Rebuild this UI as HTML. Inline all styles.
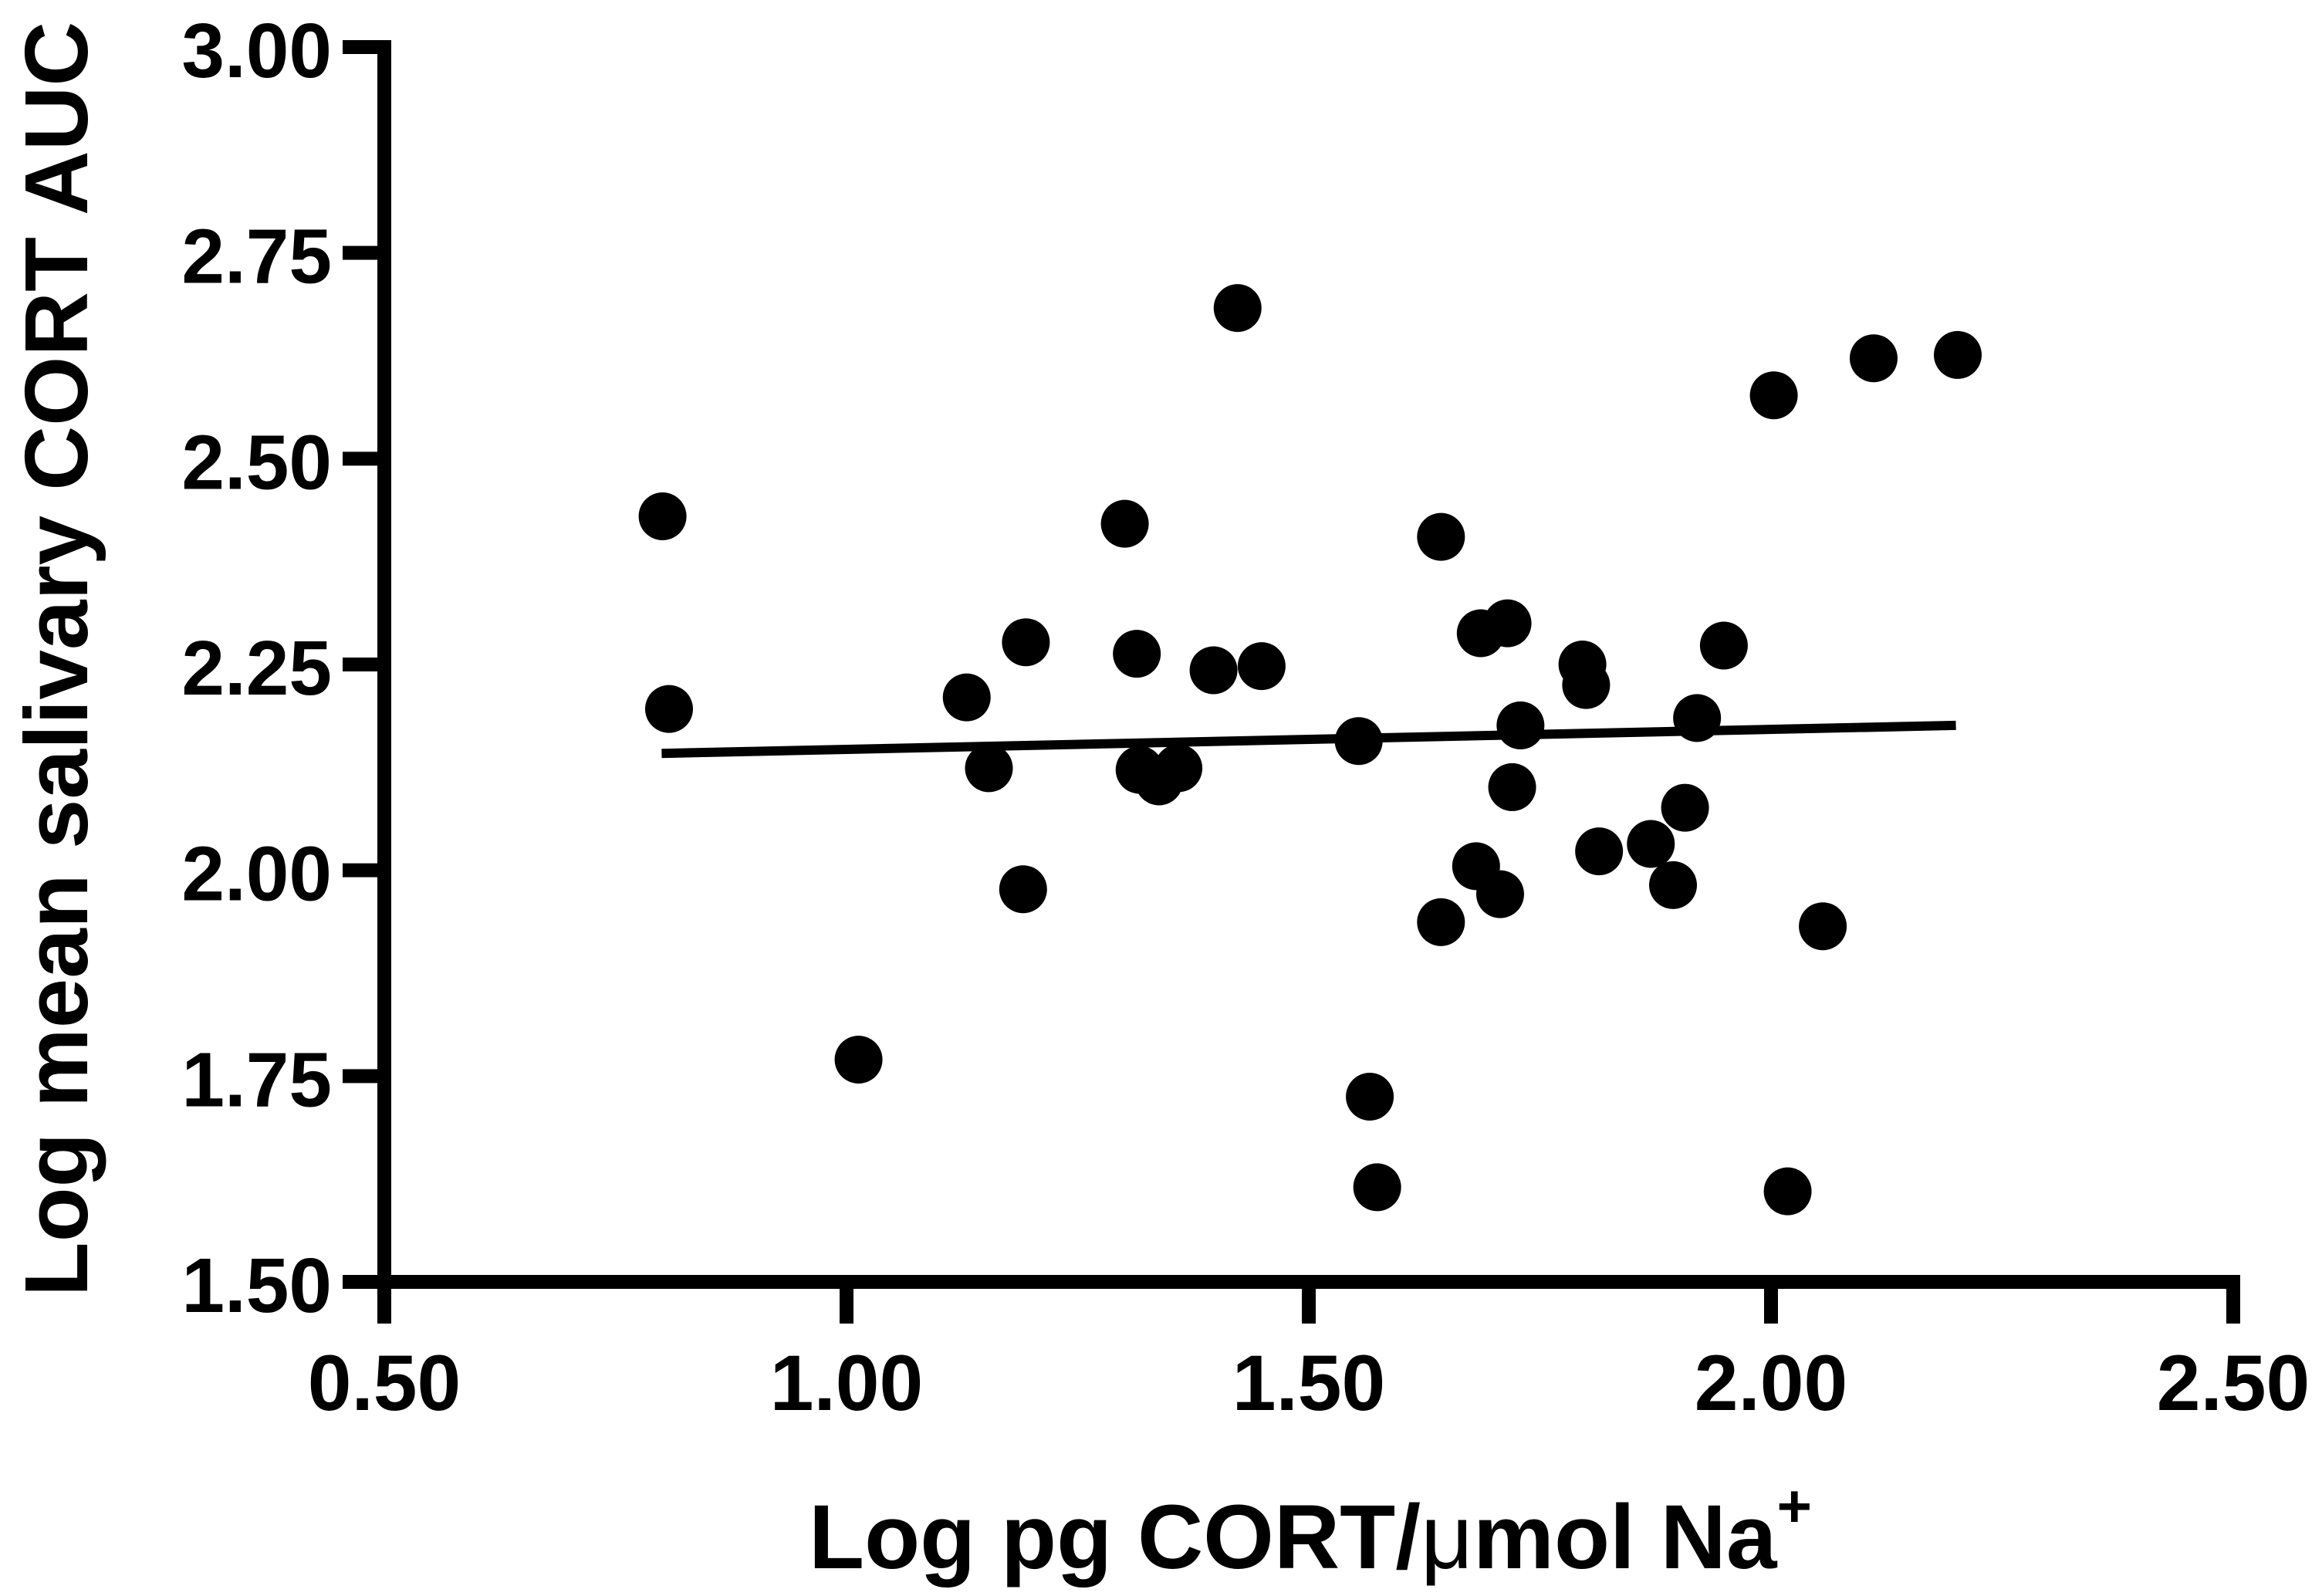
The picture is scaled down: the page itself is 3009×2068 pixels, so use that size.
<!DOCTYPE html>
<html><head><meta charset="utf-8"><style>
html,body{margin:0;padding:0;background:#fff;}
svg{display:block;}
text{font-family:"Liberation Sans",sans-serif;font-weight:bold;fill:#000;}
</style></head>
<body>
<svg id="chart" width="3009" height="2068" viewBox="0 0 3009 2068" xmlns="http://www.w3.org/2000/svg">
<g id="axes"></g>
<g id="marks"></g>
<text x="1698" y="2032" text-anchor="middle" font-size="118">Log pg CORT/<tspan font-weight="normal">μ</tspan>mol Na<tspan font-size="78" dy="-54">+</tspan></text>
<text transform="translate(113,854) rotate(-90)" text-anchor="middle" font-size="116">Log mean salivary CORT AUC</text>
</svg>
<script>
const xVals=[0.801,0.808,1.013,1.130,1.154,1.194,1.191,1.301,1.314,1.317,1.338,1.359,1.397,1.423,1.449,1.554,1.566,1.574,1.643,1.643,1.681,1.686,1.707,1.715,1.720,1.729,1.796,1.800,1.814,1.870,1.894,1.907,1.920,1.949,2.003,2.018,2.056,2.111,2.202];
const yVals=[2.43,2.196,1.77,2.21,2.124,2.277,1.977,2.421,2.263,2.122,2.108,2.124,2.243,2.683,2.248,2.157,1.725,1.615,2.405,1.937,2.005,2.288,1.971,2.30,2.101,2.176,2.25,2.225,2.023,2.032,1.982,2.076,2.185,2.273,2.577,1.610,1.932,2.622,2.626];
const fitX=[0.80,2.20];
const fitY=[2.142,2.176];
const xTicks=[0.5,1.0,1.5,2.0,2.5];
const xTickLabels=["0.50","1.00","1.50","2.00","2.50"];
const yTicks=[1.5,1.75,2.0,2.25,2.5,2.75,3.0];
const yTickLabels=["1.50","1.75","2.00","2.25","2.50","2.75","3.00"];

const X0=498,X1=2894,Y0=1661,Y1=61;
const sx=v=>X0+(v-0.5)/2.0*(X1-X0);
const sy=v=>Y0-(v-1.5)/1.5*(Y0-Y1);
const NS="http://www.w3.org/2000/svg";
function mk(tag,attrs,parent){const e=document.createElementNS(NS,tag);for(const k in attrs)e.setAttribute(k,attrs[k]);parent.appendChild(e);return e;}
const axes=document.getElementById('axes');
const marks=document.getElementById('marks');

let l=mk('line',{x1:X0,y1:Y1-9,x2:X0,y2:Y0+9,stroke:'#000','stroke-width':18},axes);


l=mk('line',{x1:X0-9,y1:Y0,x2:X1+9,y2:Y0,stroke:'#000','stroke-width':18},axes);



yTicks.forEach((v,i)=>{
  const t=mk('line',{x1:X0-54,y1:sy(v),x2:X0,y2:sy(v),stroke:'#000','stroke-width':18},axes);
  
  
  const tx=mk('text',{x:430,y:sy(v)+39,'text-anchor':'end','font-size':100},axes);
  tx.textContent=yTickLabels[i];
  
  
});
xTicks.forEach((v,i)=>{
  const t=mk('line',{x1:sx(v),y1:Y0,x2:sx(v),y2:Y0+54,stroke:'#000','stroke-width':18},axes);
  
  
  const tx=mk('text',{x:sx(v),y:1827,'text-anchor':'middle','font-size':102},axes);
  tx.textContent=xTickLabels[i];
  
  
});

xVals.forEach((x,i)=>{
  const c=mk('circle',{cx:sx(x),cy:sy(yVals[i]),r:31,fill:'#000'},marks);
  
  
});
const fl=mk('line',{x1:sx(fitX[0]),y1:sy(fitY[0]),x2:sx(fitX[1]),y2:sy(fitY[1]),stroke:'#000','stroke-width':12},marks);


</script>
</body></html>
